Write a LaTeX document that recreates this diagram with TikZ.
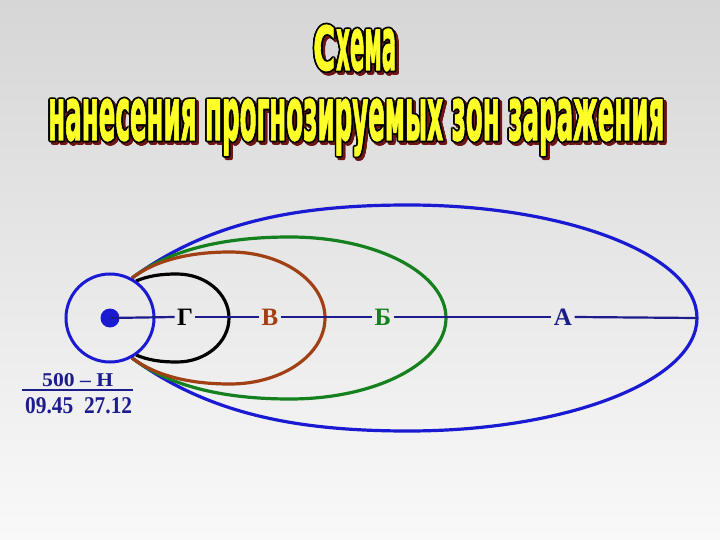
\documentclass[tikz,border=0pt]{standalone}
\usepackage{fontspec}
\usepackage{graphicx}
\setmainfont{Liberation Serif}
\newfontfamily\titlefont[FakeBold=2]{DejaVu Sans}
\definecolor{bgtop}{RGB}{214,214,214}
\definecolor{bgbot}{RGB}{249,249,249}
\definecolor{navy}{RGB}{28,28,140}
\definecolor{zblue}{RGB}{26,26,210}
\definecolor{zgreen}{RGB}{20,128,30}
\definecolor{zbrown}{RGB}{160,64,20}
\definecolor{ttyellow}{RGB}{255,255,40}
\definecolor{ttshadow}{RGB}{110,20,20}
\tikzset{
  titleshadow/.style={anchor=base west,inner sep=0pt,text=ttshadow,xshift=2.5pt,yshift=-2.5pt},
  titleline/.style={anchor=base west,inner sep=0pt,text=black},
  titlefill/.style={anchor=base west,inner sep=0pt,text=ttyellow},
  zone/.style={line width=3.2pt},
  zlabel/.style={font=\bfseries\fontsize{25}{25}\selectfont,inner sep=2.5pt,outer sep=0pt},
  axisline/.style={navy,line width=2.2pt},
  info/.style={text=navy,inner sep=0pt,font=\bfseries}
}
\newcommand\outlinedtext[3]{%
  \foreach \a in {0,30,...,330}{\node[titleshadow,shift={(\a:1.7pt)}] at (#2) {#3};}
  \foreach \a in {0,30,...,330}{\node[titleline,shift={(\a:1.7pt)}] at (#2) {#3};}
  \node[titlefill] (#1) at (#2) {#3};}
\begin{document}
\begin{tikzpicture}[x=1pt,y=-1pt]
\shade[top color=bgtop,bottom color=bgbot] (0,0) rectangle (720,540);
\useasboundingbox (0,0) rectangle (720,540);
% title
\coordinate (t1a) at (313,70);
\coordinate (t1b) at (336,70);
\coordinate (t2) at (48,140);
\outlinedtext{titleC}{t1a}{\resizebox{22pt}{45pt}{\titlefont\bfseries С}}
\outlinedtext{titleD}{t1b}{\resizebox{60pt}{41pt}{\titlefont\bfseries хема}}
\outlinedtext{titleE}{t2}{\resizebox{616pt}{41pt}{\titlefont\bfseries нанесения прогнозируемых зон заражения}}
% key points
\coordinate (T) at (132,278);
\coordinate (B) at (132,358);
\coordinate (Tk) at (136,281);
\coordinate (Bk) at (136,355);
% zone A (blue)
\draw[zone,zblue] (T) .. controls (205,225) and (288,205) .. (408,205)
  arc[start angle=90,end angle=-90,x radius=289pt,y radius=113pt]
  .. controls (288,431) and (205,411) .. (B);
% zone B (green)
\draw[zone,zgreen] (T) .. controls (168,251) and (220,237) .. (290,237)
  arc[start angle=90,end angle=-90,x radius=156pt,y radius=81pt]
  .. controls (220,399) and (168,385) .. (B);
% zone V (brown)
\draw[zone,zbrown] (T) .. controls (156,260) and (190,252) .. (230,252)
  arc[start angle=90,end angle=-90,x radius=95pt,y radius=66pt]
  .. controls (190,384) and (156,376) .. (B);
% zone G (black)
\draw[zone,black] (Tk) .. controls (148,276) and (160,274) .. (177,274)
  arc[start angle=90,end angle=-90,x radius=52pt,y radius=44pt]
  .. controls (160,362) and (148,360) .. (Bk);
% source
\node[circle,draw=zblue,line width=3pt,minimum size=88pt,inner sep=0pt] (circ) at (110,318) {};
\node[circle,fill=zblue,minimum size=19pt,inner sep=0pt] (dot) at (110,318) {};
% axis labels
\node[zlabel,text=black] (lg) at (185,317) {Г};
\node[zlabel,text=zbrown] (lv) at (270,317) {В};
\node[zlabel,text=zgreen] (lb) at (383,317) {Б};
\node[zlabel,text=navy] (la) at (563,317) {А};
\coordinate (aend) at (697,318);
\draw[axisline] (dot.center) -- (lg.west);
\draw[axisline] (lg.east) -- (lv.west);
\draw[axisline] (lv.east) -- (lb.west);
\draw[axisline] (lb.east) -- (la.west);
\draw[axisline] (la.east) -- (aend);
% info
\node[info,anchor=base west] (n500) at (42,386) {\resizebox{71pt}{13pt}{500 – Н}};
\coordinate (ruleL) at (22,390);
\coordinate (ruleR) at (133,390);
\draw[navy,line width=2pt] (ruleL) -- (ruleR);
\node[info,anchor=base west] (ndate) at (25,413) {\resizebox{107pt}{16pt}{09.45\ \ 27.12}};
\end{tikzpicture}
\end{document}
